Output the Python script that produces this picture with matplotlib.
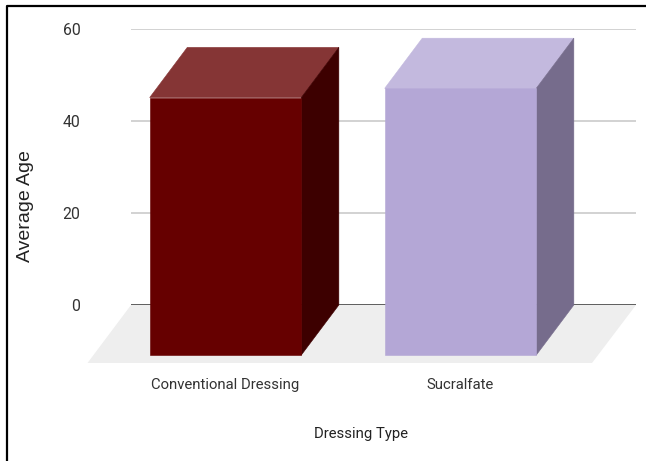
import matplotlib
matplotlib.use("Agg")
import matplotlib.pyplot as plt
from matplotlib.patches import Polygon, Rectangle

categories = ["Conventional Dressing", "Sucralfate"]
average_age = [56, 58]
y_ticks = [0, 20, 40, 60]

front_colors = ["#660000", "#b4a7d6"]
top_colors = ["#853535", "#c3b9de"]
side_colors = ["#3d0000", "#766c8c"]

W, H = 646, 461
bar_width = 0.645
depth_x = 0.16
depth_y = 10.9
label_font = "Roboto"

fig = plt.figure(figsize=(W / 100, H / 100), dpi=100, facecolor="white")
ax = fig.add_axes([131 / W, 1 - 305 / H, 505 / W, 276 / H])
ax.set_xlim(-0.562, 1.587)
ax.set_ylim(0, 60)
ax.patch.set_visible(False)
for s in ax.spines.values():
    s.set_visible(False)

ax.set_yticks(y_ticks)
ax.set_xticks([])
ax.tick_params(axis="y", length=0, pad=36.5, labelsize=11.4, labelcolor="#333333")
for lab in ax.get_yticklabels():
    lab.set_fontfamily(label_font)
ax.set_axisbelow(True)
ax.grid(axis="y", color="#d2d2d2", lw=1.4)
ax.axhline(0, color="#555555", lw=1.3, zorder=1)

# floor in front of the back wall
xmin, xmax = ax.get_xlim()
ax.add_patch(Polygon([(xmin, 0), (xmax, 0), (xmax - 0.187, -12.6), (xmin - 0.185, -12.6)],
                     color="#eeeeee", lw=0, clip_on=False, zorder=1.5))

# each bar: front, top and side faces in oblique projection
for i, (val, cf, ct, cs) in enumerate(zip(average_age, front_colors, top_colors, side_colors)):
    x0 = i - bar_width / 2 - depth_x
    x1 = i + bar_width / 2 - depth_x
    y0 = -depth_y
    y1 = val - depth_y
    ax.add_patch(Polygon([(x0, y1), (x1, y1), (x1 + depth_x, val), (x0 + depth_x, val)],
                         color=ct, lw=0.4, clip_on=False, zorder=3))
    ax.add_patch(Polygon([(x1, y0), (x1 + depth_x, 0), (x1 + depth_x, val), (x1, y1)],
                         color=cs, lw=0.4, clip_on=False, zorder=3))
    ax.add_patch(Rectangle((x0, y0), bar_width, val, color=cf, lw=0.4, clip_on=False, zorder=3.5))
    ax.text(i - depth_x, -17.3, categories[i], ha="center", va="center", fontsize=10.7,
            family=label_font, color="#333333")

fig.text(361 / W, 1 - 434 / H, "Dressing Type", ha="center", va="center", fontsize=10.7,
         family=label_font, color="#222222")
fig.text(25 / W, 1 - 206 / H, "Average Age", ha="center", va="center", rotation=90, fontsize=14,
         family="Liberation Sans", color="#222222")

# black frame, open at the bottom and on the right
fig.add_artist(plt.Line2D([6.5 / W, 6.5 / W, 1], [0, 1 - 6 / H, 1 - 6 / H], color="black", lw=1.6))

fig.savefig("out.png", dpi=100)
